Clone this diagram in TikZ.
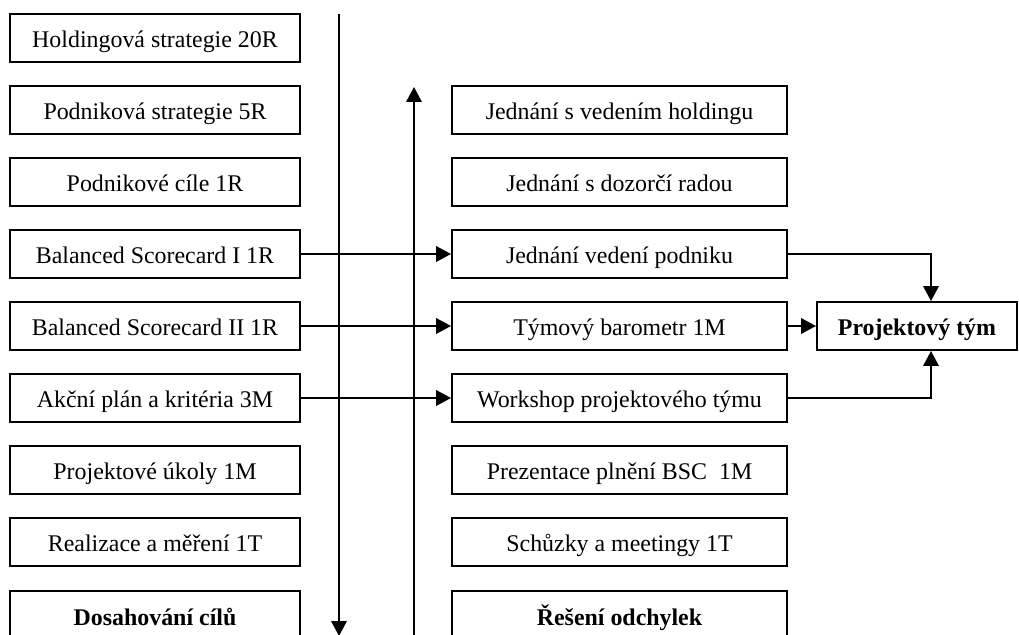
\documentclass[tikz,border=0pt]{standalone}
\usepackage{fontspec}
\setmainfont{Liberation Serif}
\usetikzlibrary{arrows.meta}

\begin{document}
\begin{tikzpicture}[x=0.02cm, y=-0.02cm, >={Triangle[length=0.3cm,width=0.31cm]}, line width=1.1pt,
  krok/.style={draw, minimum width=5.8cm, minimum height=0.96cm, inner sep=0pt,
    text height=11pt, text depth=0pt, font=\fontsize{13.6}{16}\selectfont},
  reseni/.style={krok, minimum width=6.7cm},
  posledni/.style={minimum height=1.0cm, anchor=north}]
  \useasboundingbox (0,0) rectangle (1019,635);
  % dosahovani cilu (levy sloupec)
  \node[krok] (hold) at (155,38) {Holdingová strategie 20R};
  \node[krok] (podstr) at (155,110) {Podniková strategie 5R};
  \node[krok] (podcile) at (155,182) {Podnikové cíle 1R};
  \node[krok] (bsca) at (155,254) {Balanced Scorecard I 1R};
  \node[krok] (bscb) at (155,326) {Balanced Scorecard II 1R};
  \node[krok] (akce) at (155,398) {Akční plán a kritéria 3M};
  \node[krok] (ukoly) at (155,470) {Projektové úkoly 1M};
  \node[krok] (realiz) at (155,542) {Realizace a měření 1T};
  \node[krok, posledni] (dosah) at (155,590) {\textbf{Dosahování cílů}};
  % reseni odchylek (pravy sloupec)
  \node[reseni] (jholding) at (619.5,110) {Jednání s vedením holdingu};
  \node[reseni] (jdozor) at (619.5,182) {Jednání s dozorčí radou};
  \node[reseni] (jvedeni) at (619.5,254) {Jednání vedení podniku};
  \node[reseni] (barometr) at (619.5,326) {Týmový barometr 1M};
  \node[reseni] (workshop) at (619.5,398) {Workshop projektového týmu};
  \node[reseni] (prezent) at (619.5,470) {Prezentace plnění BSC~~1M};
  \node[reseni] (schuzky) at (619.5,542) {Schůzky a meetingy 1T};
  \node[reseni, posledni] (odchylky) at (619.5,590) {\textbf{Řešení odchylek}};
  % projektovy tym
  \node[krok, minimum width=4.0cm] (tym) at (917,326) {\textbf{Projektový tým}};
  % svisle sipky
  \coordinate (dolaA) at (339,14);
  \coordinate (dolaB) at (339,636);
  \draw[->] (dolaA) -- (dolaB);
  \coordinate (nahoruA) at (414,640);
  \coordinate (nahoruB) at (414,87);
  \draw[->] (nahoruA) -- (nahoruB);
  % vazby
  \draw[->] (bsca.east) -- (jvedeni.west);
  \draw[->] (bscb.east) -- (barometr.west);
  \draw[->] (akce.east) -- (workshop.west);
  \draw[->] (barometr.east) -- (tym.west);
  \draw[->] (jvedeni.east) -| ([xshift=0.28cm]tym.north);
  \draw[->] (workshop.east) -| ([xshift=0.28cm]tym.south);
\end{tikzpicture}
\end{document}
